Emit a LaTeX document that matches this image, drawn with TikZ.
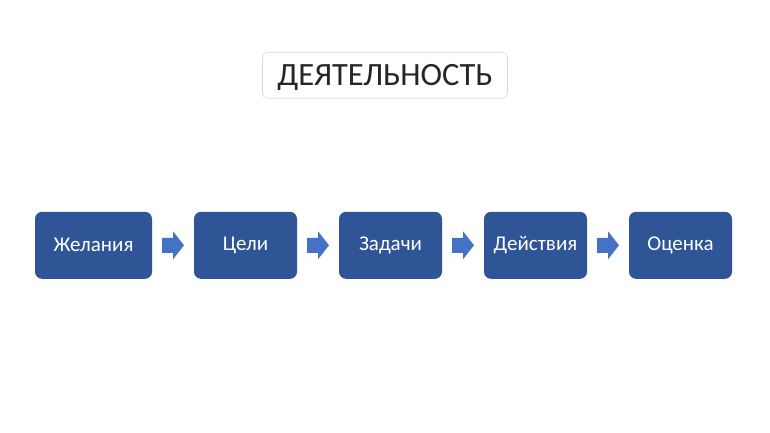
\documentclass[tikz,border=0pt]{standalone}
\usepackage{fontspec}
\setmainfont{Carlito}
\usetikzlibrary{shapes.arrows}
\definecolor{boxblue}{HTML}{2F5597}
\definecolor{arrblue}{HTML}{4472C4}
\definecolor{titlegray}{HTML}{D9D9D9}
\definecolor{titletext}{HTML}{262626}
\begin{document}
\begin{tikzpicture}[x=1pt,y=-1pt,
  stepbox/.style={draw=none,fill=boxblue,rounded corners=7pt,minimum height=67pt,text=white,font=\fontsize{21}{25}\selectfont,inner sep=0pt},
  flowarrow/.style={fill=arrblue,draw=none}]
\useasboundingbox (0,0) rectangle (770,433);
\fill[white] (0,0) rectangle (770,433);
\node[draw=titlegray,line width=0.6pt,fill=white,rounded corners=5pt,minimum width=245pt,minimum height=46pt,inner sep=0pt] (title) at (385,75.3) {};
\node[text=titletext,font=\fontsize{32.5}{38}\selectfont,inner sep=0pt] (titletxt) at (385,77) {ДЕЯТЕЛЬНОСТЬ};
\node[stepbox,minimum width=117pt] (b1) at (93.5,245.3) {Желания};
\node[stepbox,minimum width=103pt] (b2) at (245.5,245.3) {Цели};
\node[stepbox,minimum width=103pt] (b3) at (390.5,245.3) {Задачи};
\node[stepbox,minimum width=103pt] (b4) at (535.5,245.3) {Действия};
\node[stepbox,minimum width=103pt] (b5) at (680.5,245.3) {Оценка};
\foreach \a/\b in {b1/b2,b2/b3,b3/b4,b4/b5}{
  \path (\a.east) -- (\b.west) coordinate[pos=0.5] (m);
  \fill[flowarrow] ([shift={(-11,-7.5)}]m) -- ([shift={(0,-7.5)}]m) -- ([shift={(0,-14)}]m) -- ([shift={(11,0)}]m) -- ([shift={(0,14)}]m) -- ([shift={(0,7.5)}]m) -- ([shift={(-11,7.5)}]m) -- cycle;
}
\end{tikzpicture}
\end{document}
